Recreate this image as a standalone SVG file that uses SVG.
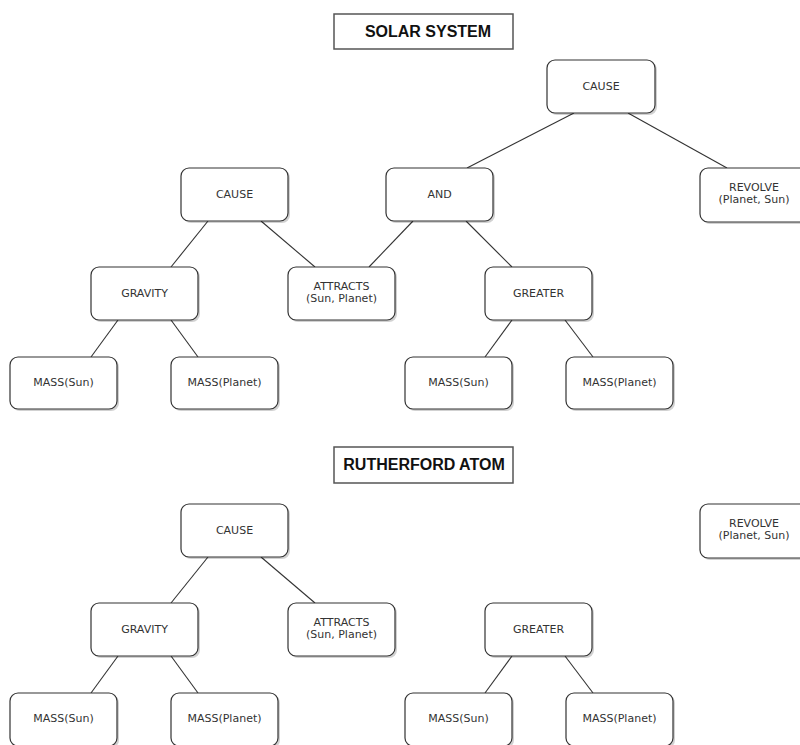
<svg xmlns="http://www.w3.org/2000/svg" width="800" height="745" viewBox="0 0 800 745">
<style>
.node rect.b{fill:#fff;stroke:#333;stroke-width:1.2}
.node rect.s{fill:#000;opacity:0.18}
.node text{font-family:"DejaVu Sans",Verdana,sans-serif;font-size:11px;fill:#333;text-anchor:middle}
.title rect{fill:#fff;stroke:#555;stroke-width:1.5}
.title text{font-family:"Liberation Sans",Arial,sans-serif;font-size:16px;font-weight:bold;fill:#111;text-anchor:middle}
#connectors line{stroke:#333;stroke-width:1.1}
</style>
<rect width="800" height="745" fill="#fff"/>
<g id="title-solar" class="title"><rect x="334" y="14" width="179" height="35"/><text x="428" y="37">SOLAR SYSTEM</text></g>
<g id="title-rutherford" class="title"><rect x="334" y="447" width="179" height="36"/><text x="424" y="470">RUTHERFORD ATOM</text></g>
<g id="connectors">
<line x1="574" y1="113" x2="467" y2="168"/>
<line x1="628" y1="113" x2="727" y2="168"/>
<line x1="208" y1="221" x2="171" y2="267"/>
<line x1="261" y1="221" x2="315" y2="267"/>
<line x1="413" y1="221" x2="369" y2="267"/>
<line x1="466" y1="221" x2="512" y2="267"/>
<line x1="118" y1="320" x2="91" y2="357"/>
<line x1="171" y1="320" x2="198" y2="357"/>
<line x1="512" y1="320" x2="485" y2="357"/>
<line x1="565" y1="320" x2="593" y2="357"/>
<line x1="208" y1="557" x2="171" y2="603"/>
<line x1="261" y1="557" x2="315" y2="603"/>
<line x1="118" y1="656" x2="91" y2="693"/>
<line x1="171" y1="656" x2="198" y2="693"/>
<line x1="512" y1="656" x2="485" y2="693"/>
<line x1="565" y1="656" x2="593" y2="693"/>
</g>
<g id="cause-top" class="node"><rect class="s" x="549" y="62" width="108" height="53" rx="8"/><rect class="b" x="547" y="60" width="108" height="53" rx="8"/><text x="601" y="90">CAUSE</text></g>
<g id="revolve-1" class="node"><rect class="s" x="702" y="170" width="108" height="54" rx="8"/><rect class="b" x="700" y="168" width="108" height="54" rx="8"/><text x="754" y="191">REVOLVE</text><text x="754" y="203">(Planet, Sun)</text></g>
<g id="cause-1" class="node"><rect class="s" x="183" y="170" width="107" height="53" rx="8"/><rect class="b" x="181" y="168" width="107" height="53" rx="8"/><text x="234.5" y="198">CAUSE</text></g>
<g id="and-1" class="node"><rect class="s" x="388" y="170" width="107" height="53" rx="8"/><rect class="b" x="386" y="168" width="107" height="53" rx="8"/><text x="439.5" y="198">AND</text></g>
<g id="gravity-1" class="node"><rect class="s" x="93" y="269" width="107" height="53" rx="8"/><rect class="b" x="91" y="267" width="107" height="53" rx="8"/><text x="144.5" y="297">GRAVITY</text></g>
<g id="attracts-1" class="node"><rect class="s" x="290" y="269" width="107" height="53" rx="8"/><rect class="b" x="288" y="267" width="107" height="53" rx="8"/><text x="341.5" y="290">ATTRACTS</text><text x="341.5" y="302">(Sun, Planet)</text></g>
<g id="greater-1" class="node"><rect class="s" x="487" y="269" width="107" height="53" rx="8"/><rect class="b" x="485" y="267" width="107" height="53" rx="8"/><text x="538.5" y="297">GREATER</text></g>
<g id="mass-sun-1" class="node"><rect class="s" x="12" y="359" width="107" height="52" rx="8"/><rect class="b" x="10" y="357" width="107" height="52" rx="8"/><text x="63.5" y="386">MASS(Sun)</text></g>
<g id="mass-planet-1" class="node"><rect class="s" x="173" y="359" width="107" height="52" rx="8"/><rect class="b" x="171" y="357" width="107" height="52" rx="8"/><text x="224.5" y="386">MASS(Planet)</text></g>
<g id="mass-sun-2" class="node"><rect class="s" x="407" y="359" width="107" height="52" rx="8"/><rect class="b" x="405" y="357" width="107" height="52" rx="8"/><text x="458.5" y="386">MASS(Sun)</text></g>
<g id="mass-planet-2" class="node"><rect class="s" x="568" y="359" width="107" height="52" rx="8"/><rect class="b" x="566" y="357" width="107" height="52" rx="8"/><text x="619.5" y="386">MASS(Planet)</text></g>
<g id="cause-2" class="node"><rect class="s" x="183" y="506" width="107" height="53" rx="8"/><rect class="b" x="181" y="504" width="107" height="53" rx="8"/><text x="234.5" y="534">CAUSE</text></g>
<g id="revolve-2" class="node"><rect class="s" x="702" y="506" width="108" height="54" rx="8"/><rect class="b" x="700" y="504" width="108" height="54" rx="8"/><text x="754" y="527">REVOLVE</text><text x="754" y="539">(Planet, Sun)</text></g>
<g id="gravity-2" class="node"><rect class="s" x="93" y="605" width="107" height="53" rx="8"/><rect class="b" x="91" y="603" width="107" height="53" rx="8"/><text x="144.5" y="633">GRAVITY</text></g>
<g id="attracts-2" class="node"><rect class="s" x="290" y="605" width="107" height="53" rx="8"/><rect class="b" x="288" y="603" width="107" height="53" rx="8"/><text x="341.5" y="626">ATTRACTS</text><text x="341.5" y="638">(Sun, Planet)</text></g>
<g id="greater-2" class="node"><rect class="s" x="487" y="605" width="107" height="53" rx="8"/><rect class="b" x="485" y="603" width="107" height="53" rx="8"/><text x="538.5" y="633">GREATER</text></g>
<g id="mass-sun-3" class="node"><rect class="s" x="12" y="695" width="107" height="53" rx="8"/><rect class="b" x="10" y="693" width="107" height="53" rx="8"/><text x="63.5" y="722">MASS(Sun)</text></g>
<g id="mass-planet-3" class="node"><rect class="s" x="173" y="695" width="107" height="53" rx="8"/><rect class="b" x="171" y="693" width="107" height="53" rx="8"/><text x="224.5" y="722">MASS(Planet)</text></g>
<g id="mass-sun-4" class="node"><rect class="s" x="407" y="695" width="107" height="53" rx="8"/><rect class="b" x="405" y="693" width="107" height="53" rx="8"/><text x="458.5" y="722">MASS(Sun)</text></g>
<g id="mass-planet-4" class="node"><rect class="s" x="568" y="695" width="107" height="53" rx="8"/><rect class="b" x="566" y="693" width="107" height="53" rx="8"/><text x="619.5" y="722">MASS(Planet)</text></g>
</svg>
